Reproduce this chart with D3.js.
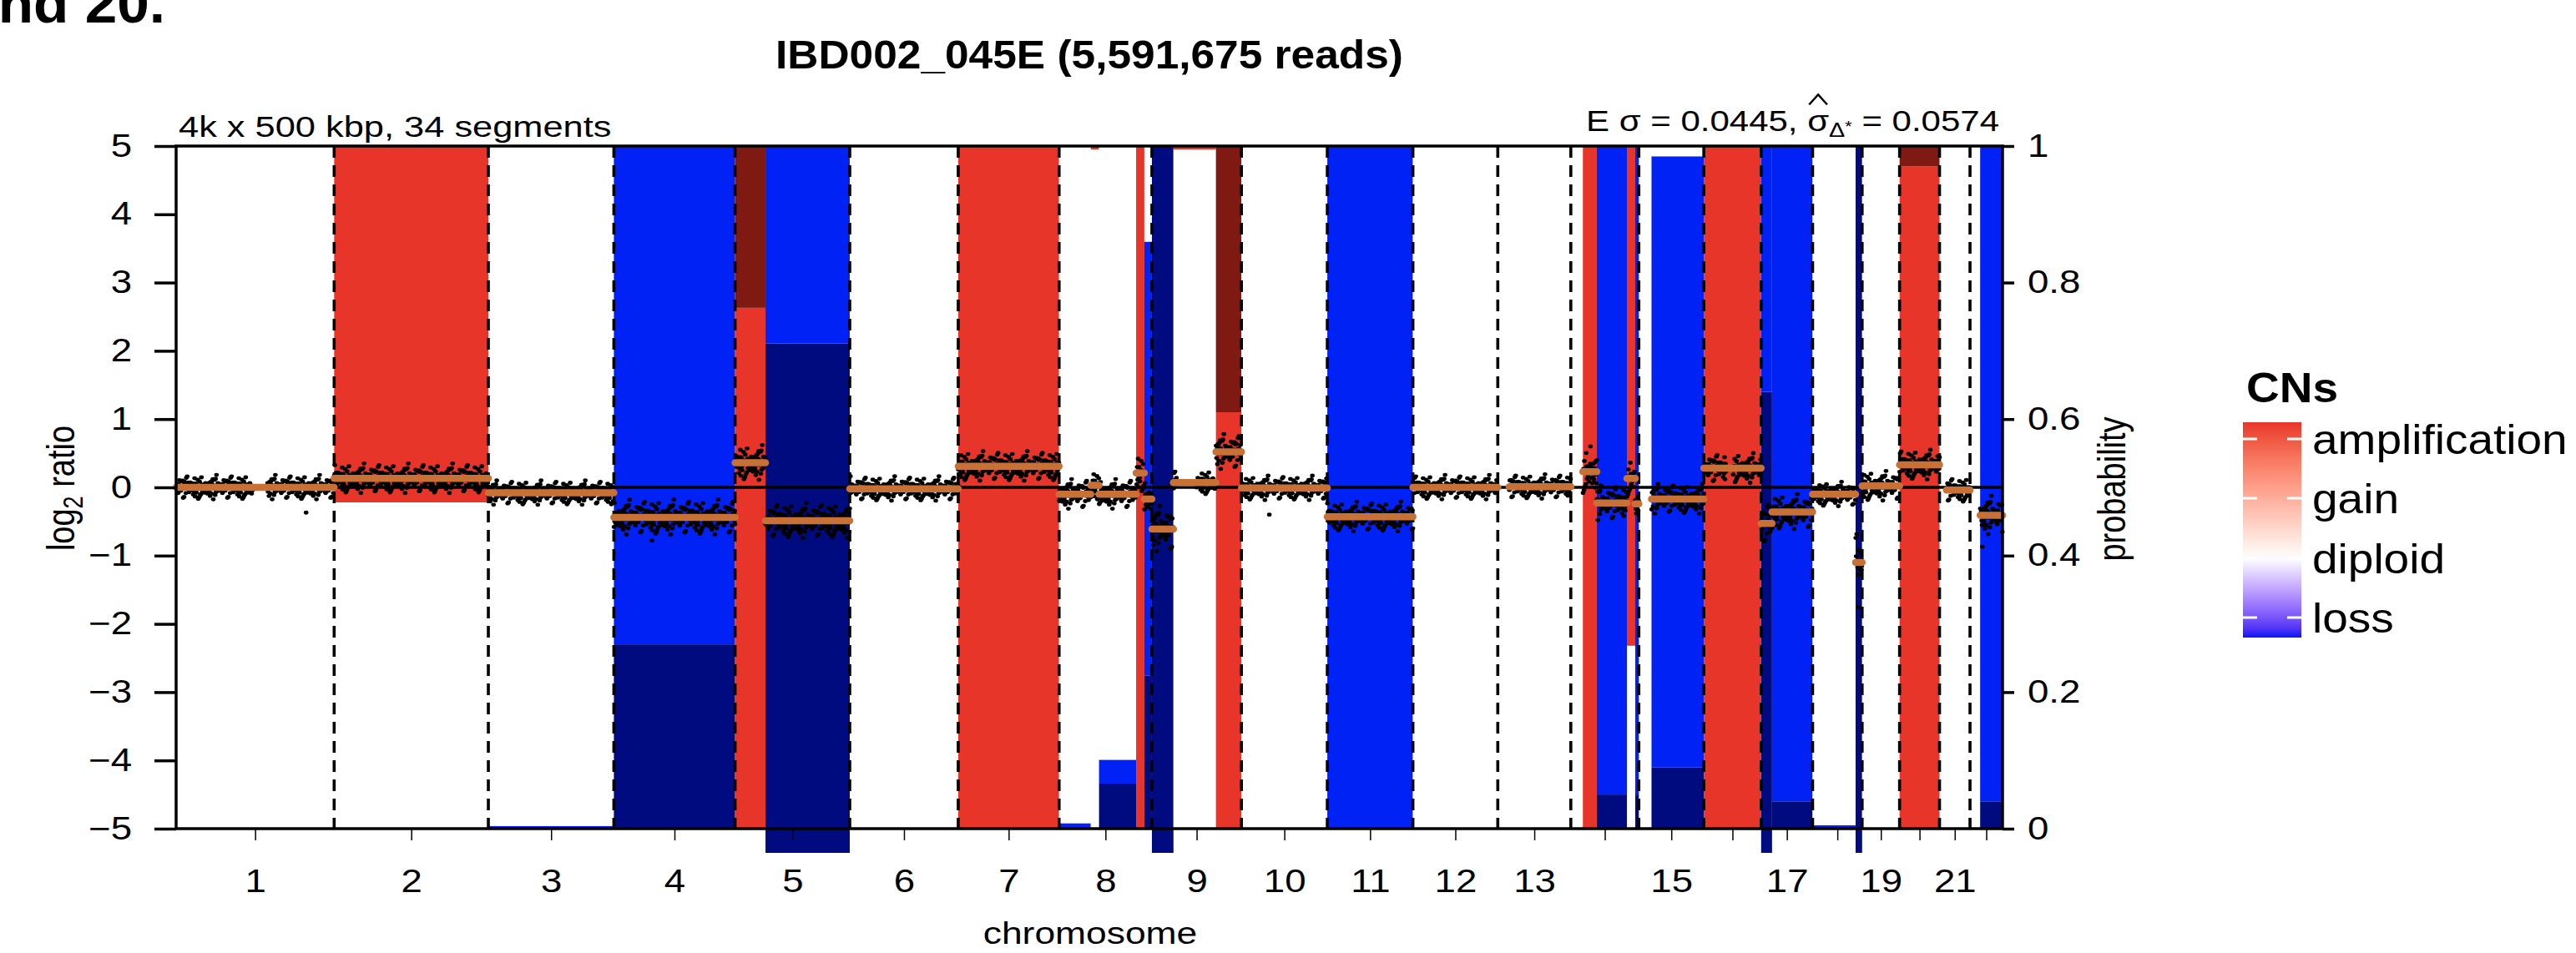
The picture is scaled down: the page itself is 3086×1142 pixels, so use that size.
<!DOCTYPE html>
<html>
<head>
<meta charset="utf-8">
<script src="https://cdn.jsdelivr.net/npm/d3@7"></script>
<style>
  body { margin: 0; background: #fff; }
  svg { display: block; }
  text { font-family: "Liberation Sans", Arial, Helvetica, sans-serif; fill: #000; }
</style>
</head>
<body>
<script>
// chromosomes (hg19 lengths in Mb)
const chromosomes = ["1","2","3","4","5","6","7","8","9","10","11","12","13","14","15","16","17","18","19","20","21","22"];
const chromLength = [249.3, 243.2, 198.0, 191.2, 180.9, 171.1, 159.1, 146.4, 141.2, 135.5, 135.0, 133.9, 115.2, 107.3, 102.5, 90.4, 81.2, 78.1, 59.1, 63.0, 48.1, 51.3];
const chromTickLabels = ["1","2","3","4","5","6","7","8","9","10","11","12","13","","15","","17","","19","","21",""];

// regions without bins (heterochromatin), [chrom, from Mb, to Mb]
const dataGaps = [[1, 121, 144], [9, 39, 70], [16, 35, 46]];

// segments: [chrom, start Mb, end Mb, mean log2 ratio, spread of bins]
const segments = [
  [1, 0, 249.3, 0.00, 0.07],
  [2, 0, 243.2, 0.13, 0.085],
  [3, 0, 198.0, -0.08, 0.07],
  [4, 0, 191.2, -0.44, 0.10],
  [5, 0, 48, 0.36, 0.10],
  [5, 48, 180.9, -0.49, 0.10],
  [6, 0, 171.1, -0.02, 0.07],
  [7, 0, 159.1, 0.31, 0.085],
  [8, 0, 50, -0.10, 0.085],
  [8, 50, 63, 0.03, 0.085],
  [8, 63, 121.5, -0.10, 0.085],
  [8, 121.5, 134.5, 0.21, 0.11],
  [8, 134.5, 146.4, -0.17, 0.11],
  [9, 0, 34, -0.61, 0.13],
  [9, 34, 101, 0.07, 0.07],
  [9, 101, 141.2, 0.52, 0.10],
  [10, 0, 135.5, -0.01, 0.07],
  [11, 0, 135.0, -0.43, 0.085],
  [12, 0, 133.9, 0.00, 0.07],
  [13, 18, 115.2, 0.01, 0.07],
  [14, 19, 41, 0.23, 0.13],
  [14, 41, 88.5, -0.23, 0.10],
  [14, 88.5, 101.6, 0.13, 0.11],
  [14, 101.6, 107.3, -0.24, 0.11],
  [15, 20, 102.5, -0.17, 0.085],
  [16, 0, 90.4, 0.28, 0.085],
  [17, 0, 17.2, -0.53, 0.12],
  [17, 17.2, 81.2, -0.36, 0.10],
  [18, 0, 67.8, -0.10, 0.07],
  [18, 67.8, 78.1, -1.10, 0.18],
  [19, 0, 59.1, 0.02, 0.085],
  [20, 0, 63.0, 0.33, 0.085],
  [21, 11, 48.1, -0.04, 0.07],
  [22, 16, 51.3, -0.41, 0.11]
];

// posterior probability of each copy-number state per segment
const states = ["deletion", "loss", "diploid", "gain", "amplification"];
const stateColor = ["#000b80", "#0022f5", "#ffffff", "#e8352a", "#7f1a12"];
const segProb = [
  [0, 0, 1, 0, 0],
  [0, 0, 0.478, 0.522, 0],
  [0, 0.004, 0.996, 0, 0],
  [0.27, 0.73, 0, 0, 0],
  [0, 0, 0, 0.763, 0.237],
  [0.711, 0.289, 0, 0, 0],
  [0, 0, 1, 0, 0],
  [0, 0, 0, 1, 0],
  [0, 0.008, 0.992, 0, 0],
  [0, 0, 0.995, 0.005, 0],
  [0.066, 0.035, 0.899, 0, 0],
  [0, 0, 0, 1, 0],
  [0.224, 0.636, 0.14, 0, 0],
  [1, 0, 0, 0, 0],
  [0, 0, 0.995, 0.005, 0],
  [0, 0, 0, 0.61, 0.39],
  [0, 0, 1, 0, 0],
  [0, 1, 0, 0, 0],
  [0, 0, 1, 0, 0],
  [0, 0, 1, 0, 0],
  [0, 0, 0, 1, 0],
  [0.05, 0.95, 0, 0, 0],
  [0, 0, 0.268, 0.732, 0],
  [0.05, 0.95, 0, 0, 0],
  [0.09, 0.895, 0.015, 0, 0],
  [0, 0, 0, 1, 0],
  [0.64, 0.36, 0, 0, 0],
  [0.04, 0.96, 0, 0, 0],
  [0, 0.005, 0.995, 0, 0],
  [1, 0, 0, 0, 0],
  [0, 0, 1, 0, 0],
  [0, 0, 0, 0.97, 0.03],
  [0, 0, 1, 0, 0],
  [0.04, 0.96, 0, 0, 0]
];
// segments flagged as homozygous deletion (marked below the axis)
const homDeletion = [5, 13, 26, 29];

// typical bin deviations (in units of the segment spread)
const binNoise = [0.3,-1.2,0.8,-0.1,1.6,-0.7,0.2,-2.1,0.9,-0.4,1.1,-1.5,0.0,0.6,-0.9,2.3,-0.3,0.5,-1.0,1.3,
  -0.6,0.1,-1.8,0.7,-0.2,1.9,-1.1,0.4,-0.5,1.0,-2.4,0.2,-0.8,1.4,-0.3,0.6,-1.3,0.1,2.0,-0.6,
  0.9,-1.6,0.3,-0.1,1.2,-0.9,0.5,-2.0,0.8,-0.4,1.7,-1.2,0.0,0.4,-0.7,2.6,-0.2,0.7,-1.4,1.1,
  -0.5,0.2,-1.9,0.6,-0.3,1.5,-1.0,0.3,-0.6,0.9,-2.2,0.1,-0.8,1.3,-0.1,0.5,-1.1,0.2,1.8,-0.7,
  1.0,-1.7,0.4,-0.2,1.2,-0.9,0.6,-2.5,0.7,-0.4,1.6,-1.3,0.1,0.3,-0.6,2.1,-0.3];
// isolated outlier bins [chrom, Mb, log2]
const outliers = [[1, 205, -0.37], [10, 44, -0.40], [22, 19.5, -0.87], [14, 31, 0.60], [18, 72, -1.75], [4, 60, -0.78]];

const legendLabels = ["amplification", "gain", "diploid", "loss"];

const W = 3086, H = 1142;
const SX = 1.2; // the figure's lettering is horizontally stretched

const offsets = [0, ...d3.cumsum(chromLength)];
const total = offsets[offsets.length - 1];
const x = d3.scaleLinear().domain([0, total]).range([211, 2399]);
const y = d3.scaleLinear().domain([-5, 5]).range([993, 175]);
const yp = d3.scaleLinear().domain([0, 1]).range([993, 175]);
const gx = (c, mb) => x(offsets[c - 1] + mb);

const svg = d3.select("body").append("svg")
  .attr("width", W).attr("height", H)
  .attr("viewBox", [0, 0, W, H]);

function label(parent, px, py, str, opt = {}) {
  const sx = opt.sx ?? SX;
  const g = parent.append("g")
    .attr("transform", `translate(${px},${py}) scale(${sx},1)` + (opt.rotate ? ` rotate(${opt.rotate})` : ""));
  const t = g.append("text")
    .attr("font-size", opt.size || 38)
    .attr("font-weight", opt.bold ? "bold" : null)
    .attr("text-anchor", opt.anchor || "start")
    .attr("dominant-baseline", opt.baseline || null);
  if (str != null) t.text(str);
  return t;
}

// background: stacked state probabilities per segment
const bg = svg.append("g");
segments.forEach((s, i) => {
  const x0 = gx(s[0], s[1]), x1 = gx(s[0], s[2]);
  let cum = 0;
  segProb[i].forEach((p, k) => {
    if (p > 0) {
      bg.append("rect")
        .attr("x", x0).attr("width", x1 - x0)
        .attr("y", yp(cum + p)).attr("height", yp(cum) - yp(cum + p))
        .attr("fill", stateColor[k]);
    }
    cum += p;
  });
});
homDeletion.forEach(i => {
  const s = segments[i];
  const x0 = gx(s[0], s[1]), x1 = gx(s[0], s[2]);
  bg.append("rect")
    .attr("x", x0).attr("width", x1 - x0)
    .attr("y", yp(0)).attr("height", 29)
    .attr("fill", stateColor[0]);
});

// chromosome boundaries
svg.append("g").selectAll("line")
  .data(offsets.slice(1, -1))
  .join("line")
  .attr("x1", d => x(d)).attr("x2", d => x(d))
  .attr("y1", 175).attr("y2", 993)
  .attr("stroke", "#000").attr("stroke-width", 3.6)
  .attr("stroke-dasharray", "14,9");

// zero line
svg.append("line")
  .attr("x1", 211).attr("x2", 2399)
  .attr("y1", y(0)).attr("y2", y(0))
  .attr("stroke", "#000").attr("stroke-width", 3.5);

// bins
const bins = [];
let k = 0;
segments.forEach(s => {
  for (let mb = s[1] + 0.3; mb < s[2]; mb += 0.72) {
    if (dataGaps.some(g => g[0] === s[0] && mb > g[1] && mb < g[2])) continue;
    bins.push([s[0], mb, s[3] + s[4] * binNoise[(k * 37) % binNoise.length]]);
    k++;
  }
});
outliers.forEach(o => bins.push(o));

svg.append("g").selectAll("ellipse")
  .data(bins)
  .join("ellipse")
  .attr("cx", d => gx(d[0], d[1]))
  .attr("cy", d => y(d[2]))
  .attr("rx", 2.8).attr("ry", 2.4)
  .attr("fill", "#000");

// segment means
svg.append("g").selectAll("line")
  .data(segments)
  .join("line")
  .attr("x1", d => gx(d[0], d[1])).attr("x2", d => gx(d[0], d[2]))
  .attr("y1", d => y(d[3])).attr("y2", d => y(d[3]))
  .attr("stroke", "#c87137").attr("stroke-width", 8.5)
  .attr("stroke-linecap", "round");

// frame
svg.append("rect")
  .attr("x", 211).attr("y", 175).attr("width", 2399 - 211).attr("height", 993 - 175)
  .attr("fill", "none").attr("stroke", "#000").attr("stroke-width", 3.5);

// axes
const fmtMinus = d => d < 0 ? "\u2212" + (-d) : String(d);
const left = svg.append("g").attr("transform", "translate(211,0)")
  .call(d3.axisLeft(y).tickValues(d3.range(-5, 6)).tickSize(26).tickPadding(27).tickFormat(fmtMinus));
const right = svg.append("g").attr("transform", "translate(2399,0)")
  .call(d3.axisRight(yp).tickValues([0, 0.2, 0.4, 0.6, 0.8, 1]).tickSize(14).tickPadding(16)
    .tickFormat(d => String(+d.toFixed(1))));
const centers = chromLength.map((l, i) => offsets[i] + l / 2);
const bottom = svg.append("g").attr("transform", "translate(0,993)")
  .call(d3.axisBottom(x).tickValues(centers).tickSize(14).tickPadding(35)
    .tickFormat((d, i) => chromTickLabels[i]));

[left, right, bottom].forEach(a => {
  a.select(".domain").remove();
  a.selectAll("text").attr("font-size", 38).attr("font-family", null);
});
left.selectAll(".tick line").attr("stroke-width", 3.5);
right.selectAll(".tick line").attr("stroke-width", 3.5);
bottom.selectAll(".tick line").attr("stroke-width", 1.5);
left.selectAll(".tick text").attr("x", -53 / SX).attr("transform", `scale(${SX},1)`);
right.selectAll(".tick text").attr("x", 30 / SX).attr("transform", `scale(${SX},1)`);
bottom.selectAll(".tick text").attr("transform", `scale(${SX},1)`);

// titles
label(svg, 198, 27, "and 20.", { size: 66, bold: true, anchor: "end", sx: 1.05 });
label(svg, 1305, 82, "IBD002_045E (5,591,675 reads)", { size: 49, bold: true, anchor: "middle", sx: 1.05 });
label(svg, 214, 164, "4k x 500 kbp, 34 segments", { size: 35, sx: 1.24 });

const est = label(svg, 2395, 157, null, { size: 35, anchor: "end", sx: 1.2 });
est.append("tspan").text("E \u03c3 = 0.0445, ");
est.append("tspan").text("\u03c3");
est.append("tspan").attr("font-size", 24).attr("dy", 7).text("\u0394");
est.append("tspan").attr("font-size", 18).attr("dy", -6).text("*");
est.append("tspan").attr("dy", -1).text(" = 0.0574");
{
  const ext = est.node().getExtentOfChar(14);
  const cx = ext.x + ext.width / 2, top = ext.y + 4;
  d3.select(est.node().parentNode).append("path")
    .attr("d", `M${cx - 9},${top - 4} L${cx},${top - 16} L${cx + 9},${top - 4}`)
    .attr("fill", "none").attr("stroke", "#000").attr("stroke-width", 2.2);
}

const yl = label(svg, 89, 585, null, { size: 38, anchor: "middle", rotate: -90 });
yl.append("tspan").text("log");
yl.append("tspan").attr("font-size", 27).attr("dy", 8).text("2");
yl.append("tspan").attr("dy", -8).text(" ratio");

label(svg, 2546, 586, "probability", { size: 38, anchor: "middle", rotate: -90 });
label(svg, 1306, 1131, "chromosome", { size: 37, anchor: "middle" });

// legend
const lg = svg.append("g");
const barX = 2687, barW = 70, barTop = 506, barBot = 764;
const labelY = [526, 597, 669, 740];
const dipOff = (669 - barTop) / (barBot - barTop);
const defs = svg.append("defs");
const grad = defs.append("linearGradient").attr("id", "cnGrad")
  .attr("x1", 0).attr("x2", 0).attr("y1", 0).attr("y2", 1);
const toWhite = d3.interpolateLab("#e8352a", "#ffffff");
const toBlue = d3.interpolateLab("#ffffff", "#0a14f5");
d3.range(0, 1.0001, 0.04).forEach(o => {
  const c = o <= dipOff ? toWhite(o / dipOff) : toBlue((o - dipOff) / (1 - dipOff));
  grad.append("stop").attr("offset", o).attr("stop-color", c);
});
lg.append("rect").attr("x", barX).attr("y", barTop).attr("width", barW).attr("height", barBot - barTop)
  .attr("fill", "url(#cnGrad)");
labelY.forEach(ly => {
  lg.append("line").attr("x1", barX).attr("x2", barX + 17).attr("y1", ly).attr("y2", ly)
    .attr("stroke", "#fff").attr("stroke-width", 3);
  lg.append("line").attr("x1", barX + barW - 17).attr("x2", barX + barW).attr("y1", ly).attr("y2", ly)
    .attr("stroke", "#fff").attr("stroke-width", 3);
});
label(lg, 2691, 482, "CNs", { size: 50, bold: true, sx: 1.1 });
legendLabels.forEach((t, i) => label(lg, 2770, labelY[i], t, { size: 50, sx: 1.1, baseline: "central" }));
</script>
</body>
</html>
